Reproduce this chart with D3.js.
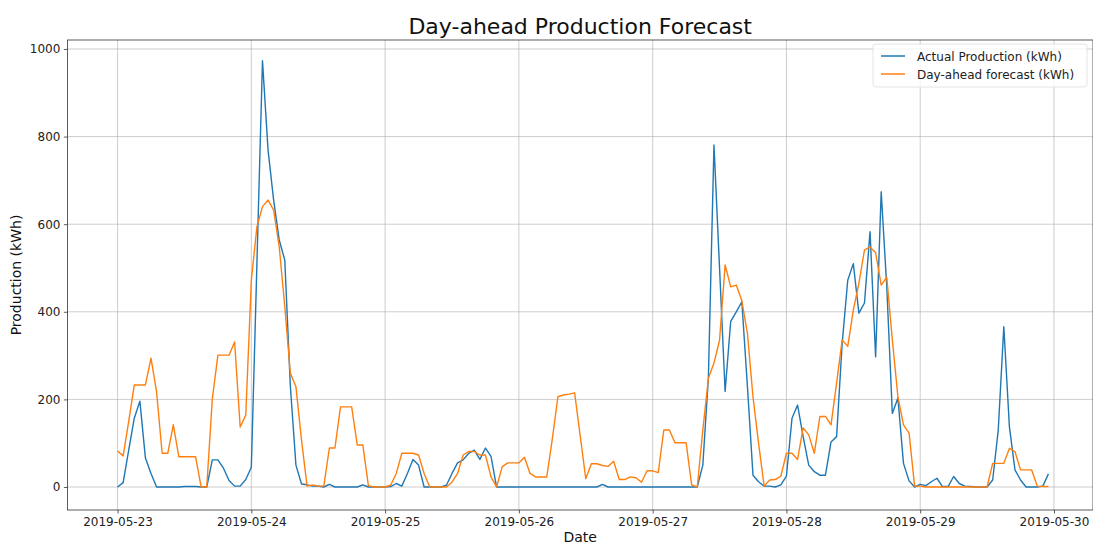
<!DOCTYPE html>
<html><head><meta charset="utf-8">
<script src="https://cdn.jsdelivr.net/npm/d3@7"></script>
<style>
body{margin:0;background:#fff;}
svg{display:block;font-family:"DejaVu Sans",sans-serif;}
</style></head>
<body>
<svg id="chart" width="1093" height="546"></svg>
<script>
const startDate = "2019-05-23T00:00:00Z";
const actual = [0,10,84,157,196,66,31,0,0,0,0,0,1,1,1,0,0,62,62,43,15,2,2,17,
45,510,973,769,655,564,518,230,50,7,5,2,2,0,6,0,0,0,0,0,5,0,0,0,
0,1,8,2,31,63,50,0,0,0,0,4,31,55,62,77,84,63,89,70,0,0,0,0,
0,0,0,0,0,0,0,0,0,0,0,0,0,0,0,6,0,0,0,0,0,0,0,0,
0,0,0,0,0,0,0,0,0,50,250,781,500,218,378,400,423,230,27,12,2,2,0,5,
25,157,187,115,50,35,27,27,103,115,328,472,510,397,420,583,297,674,457,168,203,54,14,0,
6,3,12,20,1,1,24,8,2,1,0,0,0,16,130,366,138,39,16,0,0,0,2,30];
const forecast = [82,71,150,233,233,233,294,217,77,77,142,69,69,69,69,0,0,201,301,301,301,331,137,164,
472,594,640,655,632,549,412,260,229,107,2,5,2,2,89,89,183,183,183,96,96,3,0,0,
0,4,31,77,77,77,73,31,0,0,0,0,11,31,73,81,81,73,73,23,0,46,55,55,
55,68,31,23,23,23,110,206,210,212,215,117,19,53,53,49,47,59,17,17,23,21,11,37,
37,33,130,130,101,101,101,5,0,130,248,283,335,507,457,461,425,351,206,100,2,16,17,25,
77,77,63,135,119,77,161,161,142,237,336,321,404,465,541,548,535,461,479,336,206,142,123,2,
2,0,0,0,0,0,0,0,0,0,0,0,0,54,54,54,88,81,39,39,39,2,1,1];
const xTickLabels = ["2019-05-23","2019-05-24","2019-05-25","2019-05-26","2019-05-27","2019-05-28","2019-05-29","2019-05-30"];
const yTicks = [0,200,400,600,800,1000];
const seriesNames = ["Actual Production (kWh)","Day-ahead forecast (kWh)"];
const seriesColors = ["#1f77b4","#ff7f0e"];

const t0 = new Date(startDate);
const dates = actual.map((_, i) => d3.utcHour.offset(t0, i));
const svg = d3.select("#chart");
const L = 67.4, R = 1093, T = 40, B = 510;

const x = d3.scaleUtc()
  .domain([d3.utcHour.offset(t0, -8.35), d3.utcHour.offset(t0, 175.35)])
  .range([L, R]);
const y = d3.scaleLinear().domain([-52.5, 1020.5]).range([B, T]);

const xTickDates = xTickLabels.map(s => new Date(s + "T00:00:00Z"));

// grid
const g = svg.append("g");
g.selectAll(".vg").data(xTickDates).enter().append("line")
  .attr("x1", d => x(d)).attr("x2", d => x(d)).attr("y1", T).attr("y2", B)
  .attr("stroke", "#b0b0b0").attr("stroke-width", 0.8).attr("stroke-opacity", 0.8);
g.selectAll(".hg").data(yTicks).enter().append("line")
  .attr("x1", L).attr("x2", R).attr("y1", d => y(d)).attr("y2", d => y(d))
  .attr("stroke", "#b0b0b0").attr("stroke-width", 0.8).attr("stroke-opacity", 0.8);

// lines
const line = d3.line().x((d, i) => x(dates[i])).y(d => y(d));
[actual, forecast].forEach((s, k) => {
  svg.append("path").datum(s).attr("d", line)
    .attr("fill", "none").attr("stroke", seriesColors[k])
    .attr("stroke-width", 1.4).attr("stroke-linejoin", "round");
});

// axes
const xAxis = d3.axisBottom(x).tickValues(xTickDates)
  .tickFormat((d, i) => xTickLabels[i]).tickSize(3.5).tickPadding(3.5);
const yAxis = d3.axisLeft(y).tickValues(yTicks).tickFormat(d3.format("d")).tickSize(3.5).tickPadding(3.5);
const gx = svg.append("g").attr("transform", `translate(0,${B})`).call(xAxis);
const gy = svg.append("g").attr("transform", `translate(${L},0)`).call(yAxis);
[gx, gy].forEach(a => {
  a.select(".domain").remove();
  a.selectAll("text").attr("font-size", "12px").attr("fill", "#222").attr("font-family", "DejaVu Sans");
  a.selectAll("line").attr("stroke", "#333").attr("stroke-width", 0.8);
});

// frame
svg.append("rect").attr("x", L).attr("y", T).attr("width", R - L).attr("height", B - T)
  .attr("fill", "none").attr("stroke", "#333").attr("stroke-width", 0.8);

// title & labels
svg.append("text").attr("x", (L + R) / 2).attr("y", 34).attr("text-anchor", "middle")
  .attr("font-size", "22px").attr("fill", "#111").text("Day-ahead Production Forecast");
svg.append("text").attr("x", (L + R) / 2).attr("y", 542).attr("text-anchor", "middle")
  .attr("font-size", "14px").attr("fill", "#111").text("Date");
svg.append("text").attr("transform", `translate(21,${(T + B) / 2}) rotate(-90)`)
  .attr("text-anchor", "middle").attr("font-size", "14px").attr("fill", "#111").text("Production (kWh)");

// legend
const lg = svg.append("g").attr("transform", "translate(873,44)");
lg.append("rect").attr("width", 214).attr("height", 43).attr("rx", 3)
  .attr("fill", "#fff").attr("fill-opacity", 0.8).attr("stroke", "#ddd").attr("stroke-width", 0.8);
seriesNames.forEach((n, k) => {
  const yy = 12 + k * 18;
  lg.append("line").attr("x1", 8).attr("x2", 32).attr("y1", yy).attr("y2", yy)
    .attr("stroke", seriesColors[k]).attr("stroke-width", 1.5);
  lg.append("text").attr("x", 44).attr("y", yy + 4.5).attr("font-size", "12px").attr("fill", "#222").text(n);
});
</script>
</body></html>
